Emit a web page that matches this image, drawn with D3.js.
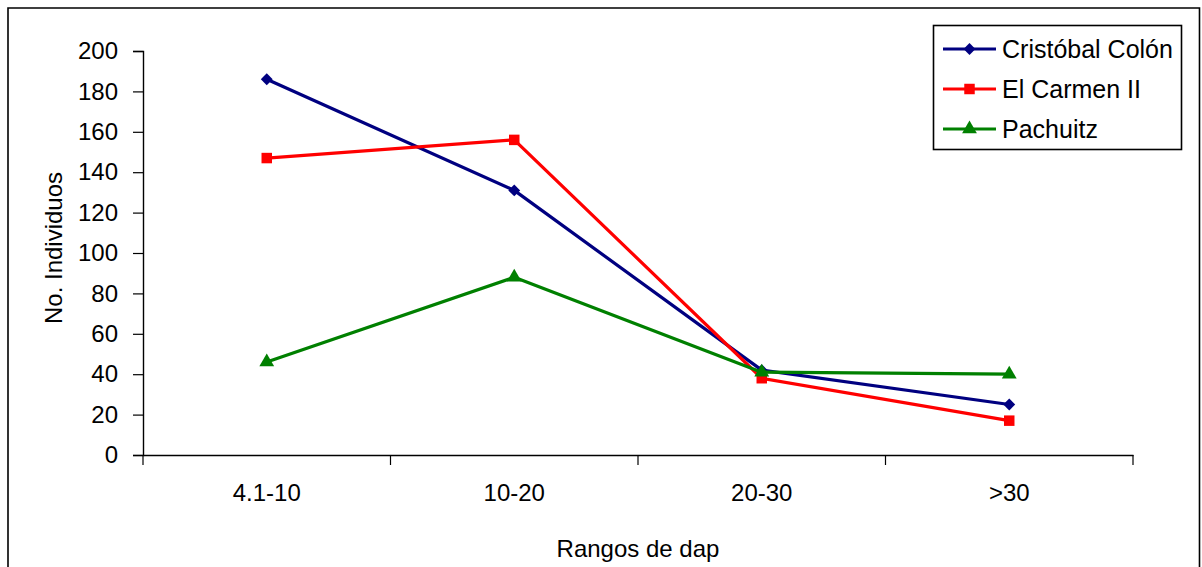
<!DOCTYPE html>
<html>
<head>
<meta charset="utf-8">
<script src="https://cdn.jsdelivr.net/npm/d3@7"></script>
<style>
  html, body { margin: 0; padding: 0; background: #fff; }
  svg { display: block; }
  text { font-family: "Liberation Sans", Arial, sans-serif; fill: #000; }
</style>
</head>
<body>
<svg id="chart" width="1202" height="567"></svg>
<script>
// Diameter classes (dap) and number of individuals per site
const categories = ["4.1-10", "10-20", "20-30", ">30"];
const cristobalColon = [186, 131, 42, 25];
const elCarmenII = [147, 156, 38, 17];
const pachuitz = [46, 88, 41, 40];
const seriesNames = ["Cristóbal Colón", "El Carmen II", "Pachuitz"];
const yTicks = [0, 20, 40, 60, 80, 100, 120, 140, 160, 180, 200];

const FONT = "'Liberation Sans', Arial, sans-serif";
const FS = "24px";
const LEGEND_FS = "25px";

const series = [
  { name: seriesNames[0], values: cristobalColon, color: "#000080", symbol: d3.symbolDiamond2, size: 90 },
  { name: seriesNames[1], values: elCarmenII, color: "#FF0000", symbol: d3.symbolSquare, size: 110 },
  { name: seriesNames[2], values: pachuitz, color: "#008000", symbol: d3.symbolTriangle, size: 95 }
];

const svg = d3.select("#chart");

// outer chart frame (bottom edge falls outside the view)
svg.append("path")
  .attr("d", "M8,567 V8 H1199.5 V567")
  .attr("fill", "none").attr("stroke", "#000").attr("stroke-width", 1.6);

const plot = { left: 143, right: 1133, top: 51, bottom: 455 };

const x = d3.scaleBand().domain(categories).range([plot.left, plot.right]);
const y = d3.scaleLinear().domain([0, 200]).range([plot.bottom, plot.top]);

// y axis
const yAxis = svg.append("g")
  .attr("transform", `translate(${plot.left},0)`)
  .call(d3.axisLeft(y).tickValues(yTicks).tickSize(10).tickPadding(15));
yAxis.select(".domain").attr("stroke", "#000").attr("stroke-width", 1.4);
yAxis.selectAll(".tick line").attr("stroke", "#000").attr("stroke-width", 1.2);
yAxis.selectAll(".tick text").style("font-size", FS).style("font-family", FONT).attr("fill", "#000");

// x axis with tick marks at category boundaries
const xAxis = svg.append("g")
  .attr("transform", `translate(0,${plot.bottom})`)
  .call(d3.axisBottom(x).tickSize(0).tickPadding(29).tickSizeOuter(0));
xAxis.select(".domain").attr("stroke", "#000").attr("stroke-width", 1.4);
xAxis.selectAll(".tick text").style("font-size", FS).style("font-family", FONT).attr("fill", "#000");
const boundaries = categories.map(c => x(c)).concat([x(categories[categories.length - 1]) + x.bandwidth()]);
xAxis.selectAll(".bound").data(boundaries).enter().append("line")
  .attr("x1", d => d).attr("x2", d => d).attr("y1", 0).attr("y2", 10)
  .attr("stroke", "#000").attr("stroke-width", 1.2);

// axis titles
svg.append("text")
  .attr("x", 638).attr("y", 557)
  .attr("text-anchor", "middle").style("font-size", FS)
  .text("Rangos de dap");
svg.append("text")
  .attr("transform", `translate(61.5,248) rotate(-90)`)
  .attr("text-anchor", "middle").style("font-size", FS)
  .text("No. Individuos");

// series lines and markers
const cx = c => x(c) + x.bandwidth() / 2;
const line = d3.line().x((d, i) => cx(categories[i])).y(d => y(d));

series.forEach(s => {
  svg.append("path")
    .attr("d", line(s.values))
    .attr("fill", "none").attr("stroke", s.color).attr("stroke-width", 3.2)
    .attr("stroke-linejoin", "round");
  svg.selectAll(null).data(s.values).enter().append("path")
    .attr("d", d3.symbol().type(s.symbol).size(s.size))
    .attr("transform", (d, i) => `translate(${cx(categories[i])},${y(d)})`)
    .attr("fill", s.color);
});

// legend
const legend = svg.append("g");
legend.append("rect")
  .attr("x", 933.5).attr("y", 25.5).attr("width", 248).attr("height", 124)
  .attr("fill", "#fff").attr("stroke", "#000").attr("stroke-width", 1.6);
series.forEach((s, i) => {
  const ly = 49 + i * 40;
  legend.append("line")
    .attr("x1", 943).attr("x2", 996).attr("y1", ly).attr("y2", ly)
    .attr("stroke", s.color).attr("stroke-width", 3.2);
  legend.append("path")
    .attr("d", d3.symbol().type(s.symbol).size(s.size))
    .attr("transform", `translate(969.5,${ly})`)
    .attr("fill", s.color);
  legend.append("text")
    .attr("x", 1002).attr("y", ly + 9)
    .style("font-size", LEGEND_FS)
    .text(s.name);
});
</script>
</body>
</html>
